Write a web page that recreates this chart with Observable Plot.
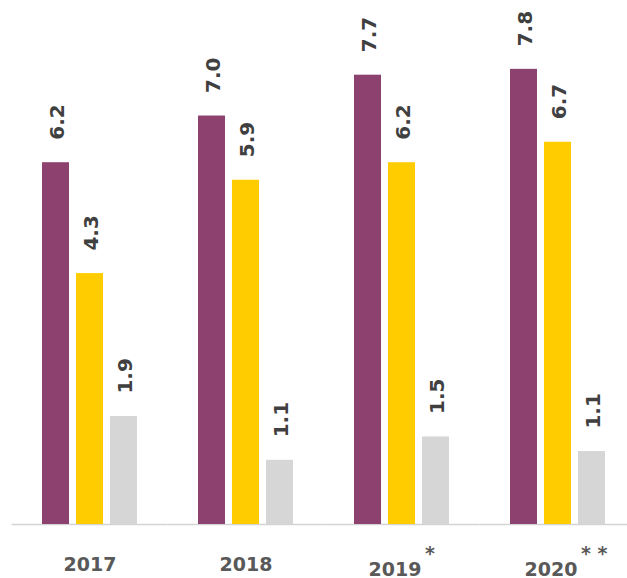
<!DOCTYPE html>
<html>
<head>
<meta charset="utf-8">
<script src="https://cdn.jsdelivr.net/npm/d3@7"></script>
<script src="https://cdn.jsdelivr.net/npm/@observablehq/plot@0.6"></script>
<style>
  html, body { margin: 0; padding: 0; background: #ffffff; }
  #chart svg { display: block; }
</style>
</head>
<body>
<div id="chart"></div>
<script>
// ---- data ----
const years = ["2017", "2018", "2019", "2020"];
const notes = ["", "", "*", "* *"];
const series = ["A", "B", "C"];
const valuesA = [6.2, 7.0, 7.7, 7.8];
const valuesB = [4.3, 5.9, 6.2, 6.55];
const valuesC = [1.85, 1.1, 1.5, 1.25];
const labelsA = ["6.2", "7.0", "7.7", "7.8"];
const labelsB = ["4.3", "5.9", "6.2", "6.7"];
const labelsC = ["1.9", "1.1", "1.5", "1.1"];
const colors = ["#8c416f", "#ffcc00", "#d6d6d6"];

const seriesValues = [valuesA, valuesB, valuesC];
const seriesLabels = [labelsA, labelsB, labelsC];
const rows = [];
years.forEach((yr, i) => {
  series.forEach((s, j) => {
    rows.push({year: yr, series: s, value: seriesValues[j][i], label: seriesLabels[j][i]});
  });
});
const yearRows = years.map((yr, i) => ({year: yr, note: notes[i]}));
const plainYears = yearRows.filter(d => d.note === "");
const notedYears = yearRows.filter(d => d.note !== "");

const chart = Plot.plot({
  width: 627,
  height: 578,
  marginLeft: 35,
  marginRight: 14,
  marginTop: 28,
  marginBottom: 54,
  style: {fontFamily: "DejaVu Sans", background: "#ffffff"},
  fx: {domain: years, paddingInner: 0.3, paddingOuter: 0, axis: null, label: null},
  x: {domain: series, paddingInner: 0.214, paddingOuter: 0.17, axis: null},
  y: {domain: [0, 8.5], axis: null},
  color: {domain: series, range: colors},
  marks: [
    Plot.ruleY([0], {stroke: "#d4d4d4", strokeWidth: 1.5, insetLeft: -23.5, insetRight: -23.5}),
    Plot.barY(rows, {fx: "year", x: "series", y: "value", fill: "series"}),
    Plot.text(rows, {
      fx: "year", x: "series", y: "value", text: "label",
      rotate: -90, textAnchor: "start", lineAnchor: "middle",
      dy: -23, dx: 2, fontSize: 20, fontWeight: "bold", fill: "#404040"
    }),
    Plot.text(plainYears, {
      fx: "year", frameAnchor: "bottom", text: "year", lineAnchor: "bottom",
      dy: 46, fontSize: 19, fontWeight: "bold", fill: "#595959"
    }),
    Plot.text(notedYears, {
      fx: "year", frameAnchor: "bottom", text: "year", lineAnchor: "bottom",
      dy: 51, dx: -7, fontSize: 19, fontWeight: "bold", fill: "#595959"
    }),
    Plot.text(notedYears, {
      fx: "year", frameAnchor: "bottom", text: "note", lineAnchor: "top", textAnchor: "start",
      dy: 22, dx: 23, fontSize: 19, fontWeight: "bold", fill: "#595959"
    })
  ]
});
document.getElementById("chart").appendChild(chart);
</script>
</body>
</html>
